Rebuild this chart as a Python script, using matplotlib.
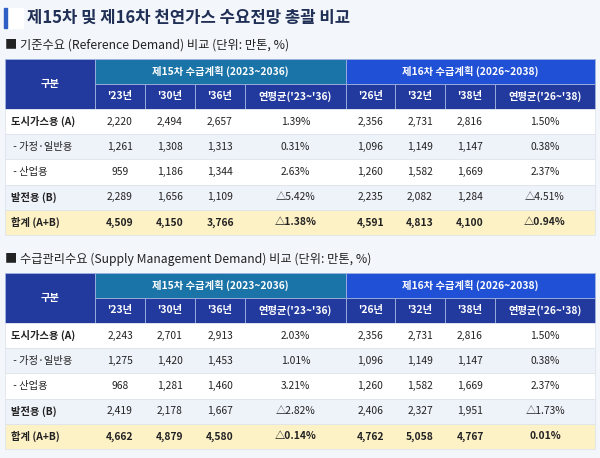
import matplotlib.pyplot as plt
from matplotlib.patches import Rectangle

plt.rcParams['font.family'] = ['Noto Sans CJK KR', 'DejaVu Sans']

# datos ###############################################################
titulo = '제15차 및 제16차 천연가스 수요전망 총괄 비교'
sub1 = '■ 기준수요 (Reference Demand) 비교 (단위: 만톤, %)'
sub2 = '■ 수급관리수요 (Supply Management Demand) 비교 (단위: 만톤, %)'
plan15 = '제15차 수급계획 (2023~2036)'
plan16 = '제16차 수급계획 (2026~2038)'
cols = ["'23년", "'30년", "'36년", "연평균('23~'36)", "'26년", "'32년", "'38년", "연평균('26~'38)"]
filas = ['도시가스용 (A)', ' - 가정·일반용', ' - 산업용', '발전용 (B)', '합계 (A+B)']

ref = [
    ['2,220', '2,494', '2,657', '1.39%', '2,356', '2,731', '2,816', '1.50%'],
    ['1,261', '1,308', '1,313', '0.31%', '1,096', '1,149', '1,147', '0.38%'],
    ['959', '1,186', '1,344', '2.63%', '1,260', '1,582', '1,669', '2.37%'],
    ['2,289', '1,656', '1,109', '△5.42%', '2,235', '2,082', '1,284', '△4.51%'],
    ['4,509', '4,150', '3,766', '△1.38%', '4,591', '4,813', '4,100', '△0.94%'],
]
sup = [
    ['2,243', '2,701', '2,913', '2.03%', '2,356', '2,731', '2,816', '1.50%'],
    ['1,275', '1,420', '1,453', '1.01%', '1,096', '1,149', '1,147', '0.38%'],
    ['968', '1,281', '1,460', '3.21%', '1,260', '1,582', '1,669', '2.37%'],
    ['2,419', '2,178', '1,667', '△2.82%', '2,406', '2,327', '1,951', '△1.73%'],
    ['4,662', '4,879', '4,580', '△0.14%', '4,762', '5,058', '4,767', '0.01%'],
]

xs = [5, 95, 145, 195, 245, 346, 395, 445, 495, 595]
fs = 7.4

fig = plt.figure(figsize=(6, 4.58), dpi=100)
fig.patch.set_facecolor('#f3f6fa')
ax = fig.add_axes([0, 0, 1, 1])
ax.set_xlim(0, 600)
ax.set_ylim(458, 0)
ax.axis('off')

ax.add_patch(Rectangle((4, 8), 3, 20, color='#2f5fc4'))
ax.add_patch(Rectangle((9, 8), 14, 20, color='white'))
ax.text(27, 18, titulo, fontsize=12, fontweight='bold', color='#1f2f55', va='center')


def tabla(y0, sub, datos):
    ax.text(5, y0 - 14, sub, fontsize=8.8, color='#222222', va='center')
    hh = 25
    rh = 25.2
    # cabecera
    ax.add_patch(Rectangle((xs[0], y0), xs[1] - xs[0], 2 * hh, fc='#22399e', ec='#9fb3e0', lw=0.6))
    ax.text((xs[0] + xs[1]) / 2, y0 + hh, '구분', color='white', fontsize=fs, fontweight='bold', ha='center', va='center')
    ax.add_patch(Rectangle((xs[1], y0), xs[5] - xs[1], hh, fc='#1a74a8', ec='#9fb3e0', lw=0.6))
    ax.text((xs[1] + xs[5]) / 2, y0 + hh / 2, plan15, color='white', fontsize=fs, fontweight='bold', ha='center', va='center')
    ax.add_patch(Rectangle((xs[5], y0), xs[9] - xs[5], hh, fc='#2050d6', ec='#9fb3e0', lw=0.6))
    ax.text((xs[5] + xs[9]) / 2, y0 + hh / 2, plan16, color='white', fontsize=fs, fontweight='bold', ha='center', va='center')
    for j, c in enumerate(cols):
        ax.add_patch(Rectangle((xs[j + 1], y0 + hh), xs[j + 2] - xs[j + 1], hh, fc='#22399e', ec='#9fb3e0', lw=0.6))
        ax.text((xs[j + 1] + xs[j + 2]) / 2, y0 + 1.5 * hh, c, color='white', fontsize=fs, fontweight='bold', ha='center', va='center')
    # filas
    for i, nombre in enumerate(filas):
        y = y0 + 2 * hh + i * rh
        total = i == len(filas) - 1
        fc = '#fdf1c6' if total else ('white' if i % 2 == 0 else '#eef2f9')
        negrita = 'bold' if (total or i in (0, 3)) else 'normal'
        ax.add_patch(Rectangle((xs[0], y), xs[9] - xs[0], rh, fc=fc, ec='#dfe4ec', lw=0.6))
        ax.text(xs[0] + 6, y + rh / 2, nombre, fontsize=fs, fontweight=negrita, color='#222222', va='center')
        for j, v in enumerate(datos[i]):
            ax.text((xs[j + 1] + xs[j + 2]) / 2, y + rh / 2, v, fontsize=fs, color='#222222',
                    fontweight='bold' if total else 'normal', ha='center', va='center')


tabla(59, sub1, ref)
tabla(273, sub2, sup)

fig.savefig('out.png', dpi=100, facecolor=fig.get_facecolor())
